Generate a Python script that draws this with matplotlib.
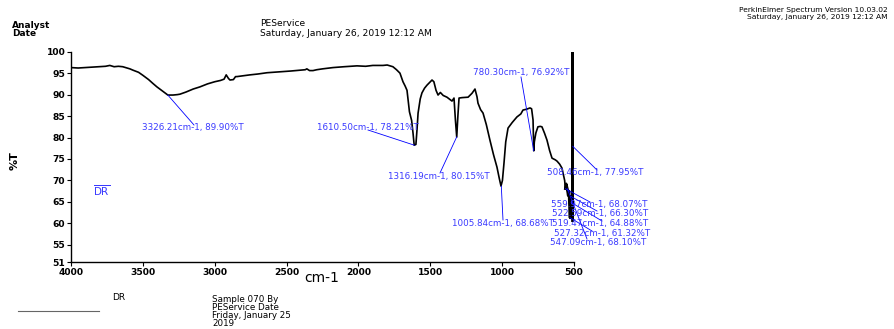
import matplotlib.pyplot as plt
from matplotlib.lines import Line2D

plt.rcParams['font.family'] = ['DejaVu Sans']

W, H = 894, 329

# spectrum (cm-1, %T)
wavenumber = [4000, 3950, 3900, 3850, 3800, 3760, 3730, 3700, 3670, 3640, 3610, 3590,
              3569, 3530, 3500, 3460, 3430, 3402, 3370, 3345, 3326, 3290, 3260, 3242,
              3200, 3150, 3103, 3050, 3000, 2960, 2935, 2920, 2905, 2894, 2870, 2855,
              2845, 2800, 2755, 2700, 2636, 2550, 2470, 2407, 2370, 2359, 2340, 2316,
              2290, 2250, 2177, 2100, 2010, 1950, 1900, 1860, 1829, 1800, 1780, 1760,
              1735, 1711, 1690, 1675, 1662, 1645, 1630, 1620, 1612, 1600, 1592, 1585,
              1570, 1558, 1540, 1523, 1500, 1488, 1475, 1460, 1446, 1430, 1410, 1384,
              1360, 1349, 1335, 1325, 1316, 1308, 1300, 1279, 1237, 1210, 1189, 1175,
              1168, 1150, 1133, 1110, 1085, 1060, 1036, 1020, 1008, 998, 987, 975,
              959, 930, 897, 870, 855, 830, 806, 795, 785, 780, 776, 765,
              751, 735, 723, 705, 688, 670, 653, 630, 618, 600, 584, 575,
              565, 560, 555, 547, 540, 535, 527, 525, 522, 519, 515, 512,
              510, 509, 508, 507.5]
transmittance = [96.3, 96.2, 96.3, 96.4, 96.5, 96.6, 96.8, 96.5, 96.6, 96.5, 96.2, 96.0,
                 95.7, 95.2, 94.5, 93.5, 92.6, 91.8, 91.0, 90.4, 89.9, 89.9, 90.0, 90.1,
                 90.6, 91.3, 91.8, 92.5, 93.0, 93.3, 93.6, 94.6, 93.8, 93.4, 93.5, 94.2,
                 94.2, 94.4, 94.6, 94.8, 95.1, 95.3, 95.5, 95.7, 95.8, 96.0, 95.6, 95.6,
                 95.8, 96.0, 96.3, 96.5, 96.7, 96.6, 96.8, 96.8, 96.8, 96.9, 96.7, 96.5,
                 95.8, 95.0, 93.0, 92.0, 91.0, 86.0, 84.0, 81.0, 78.2, 78.4, 82.0, 85.7,
                 89.0, 90.4, 91.5, 92.2, 93.0, 93.4, 93.0, 91.0, 89.9, 90.5, 89.8, 89.4,
                 88.8, 88.5, 89.2, 84.0, 80.1, 85.0, 89.2, 89.3, 89.4, 90.3, 91.3, 89.5,
                 88.0, 86.5, 85.7, 83.0, 79.4, 76.0, 73.1, 70.5, 68.7, 70.0, 74.1, 79.0,
                 82.2, 83.5, 84.8, 85.5, 86.4, 86.6, 86.9, 86.7, 84.1, 76.9, 79.0, 81.1,
                 82.5, 82.6, 82.5, 81.0, 79.4, 77.0, 75.2, 74.8, 74.5, 73.8, 72.9, 71.5,
                 70.0, 68.1, 69.2, 68.1, 66.5, 67.5, 61.3, 64.0, 66.3, 64.9, 63.5, 65.0,
                 62.0, 101, 101, 60.7]

# picked peaks
peak_wn = [3326.21, 1610.50, 1316.19, 1005.84, 780.30, 508.46,
           559.97, 522.59, 519.47, 527.32, 547.09]
peak_t = [89.90, 78.21, 80.15, 68.68, 76.92, 77.95,
          68.07, 66.30, 64.88, 61.32, 68.10]

x_ticks = [4000, 3500, 3000, 2500, 2000, 1500, 1000, 500]
y_ticks = [100, 95, 90, 85, 80, 75, 70, 65, 60, 55, 51]


def fx(x):
    return x / W


def fy(y):
    return 1 - y / H


def to_wn(px):
    return 4000 - (px - 71) * 3500 / 503


def to_t(py):
    return 100 - (py - 51.7) * 49 / 210.3


fig = plt.figure(figsize=(W / 100, H / 100), dpi=100)
ax = fig.add_axes([fx(71), fy(262), (574 - 71) / W, (262 - 51.7) / H])
ax.plot(wavenumber, transmittance, color='black', lw=1.2)
# the noisy low end is drawn heavier, as in the print
n_low = sum(1 for w in wavenumber if w <= 560)
ax.plot(wavenumber[-n_low:], transmittance[-n_low:], color='black', lw=2.0)
ax.plot(wavenumber[-3:], transmittance[-3:], color='black', lw=2.4)
ax.set_xlim(4000, 500)
ax.set_ylim(51, 100)
ax.set_xticks(x_ticks)
ax.set_yticks(y_ticks)
for s in ['top', 'right']:
    ax.spines[s].set_visible(False)
ax.spines['left'].set_linewidth(1.0)
ax.spines['bottom'].set_linewidth(1.0)
ax.tick_params(length=3, width=0.8, pad=1, labelsize=6.6)
for lab in ax.get_xticklabels() + ax.get_yticklabels():
    lab.set_fontweight('bold')

blue = '#3a3aff'
# (label anchor px, line end px, alignment)
label_pos = [((141.7, 127.5), (194, 125), 'left'),
             ((317, 127), (368, 130), 'left'),
             ((388, 177), (440, 173), 'left'),
             ((452, 223.5), (503, 220), 'left'),
             ((473, 72), (521, 77), 'left'),
             ((547, 173), (597, 170), 'left'),
             ((648, 204), (590, 202), 'right'),
             ((648, 213), (597, 211), 'right'),
             ((648, 223), (602, 221), 'right'),
             ((650, 233.5), (592, 231), 'right'),
             ((646, 242), (587, 239), 'right')]
for w, t, (tp, lp, ha) in zip(peak_wn, peak_t, label_pos):
    ax.plot([w, to_wn(lp[0])], [t, to_t(lp[1])], color='blue', lw=0.6, clip_on=False)
    ax.text(to_wn(tp[0]), to_t(tp[1]), f"{w:.2f}cm-1, {t:.2f}%T", color=blue,
            fontsize=6.3, ha=ha, va='center', clip_on=False)

ax.text(to_wn(93), to_t(191), r'$\overline{\mathrm{DR}}$', color=blue, fontsize=7.5,
        ha='left', va='center')

# header and footer texts
fig.text(fx(12), fy(25), 'Analyst', fontsize=6.5, fontweight='bold', va='center')
fig.text(fx(12), fy(34), 'Date', fontsize=6.5, fontweight='bold', va='center')
fig.text(fx(260), fy(24), 'PEService', fontsize=6.6, va='center')
fig.text(fx(260), fy(34), 'Saturday, January 26, 2019 12:12 AM', fontsize=6.6, va='center')
fig.text(fx(888), fy(10), 'PerkinElmer Spectrum Version 10.03.02', fontsize=5.4,
         ha='right', va='center')
fig.text(fx(888), fy(16.5), 'Saturday, January 26, 2019 12:12 AM', fontsize=5.4,
         ha='right', va='center')
fig.text(fx(15), fy(161), '%T', fontsize=8, fontweight='bold', rotation=90,
         ha='center', va='center')
fig.text(fx(322), fy(278), 'cm-1', fontsize=10, ha='center', va='center')
fig.text(fx(112), fy(298), 'DR', fontsize=6.5, va='center')
fig.text(fx(212), fy(295), 'Sample 070 By\nPEService Date\nFriday, January 25\n2019',
         fontsize=6.3, va='top', linespacing=0.88)
fig.add_artist(Line2D([fx(18), fx(99)], [fy(311), fy(311)], color='#666666', lw=0.8))

fig.savefig('out.png', dpi=100)
